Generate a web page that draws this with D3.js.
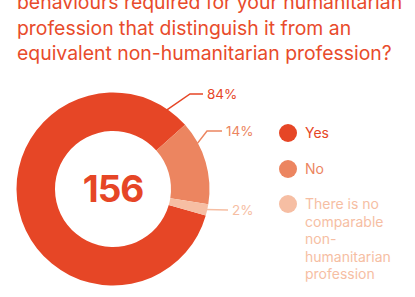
<!DOCTYPE html>
<html>
<head>
<meta charset="utf-8">
<script src="https://cdn.jsdelivr.net/npm/d3@7"></script>
<style>
  body { margin: 0; background: #fff; }
  text { font-family: Inter, "Noto Sans", sans-serif; }
</style>
</head>
<body>
<div id="chart"></div>
<script>
// data
var titleLines = [
  "behaviours required for your humanitarian",
  "profession that distinguish it from an",
  "equivalent non-humanitarian profession?"
];
var categories = ["Yes", "No", "There is no comparable non-humanitarian profession"];
var legendLines = [["Yes"], ["No"], ["There is no", "comparable", "non-", "humanitarian", "profession"]];
var counts = [131, 22, 3];
var pctLabels = ["84%", "14%", "2%"];
var total = "156";
var colors = ["#e64626", "#ec8560", "#f6bea3"];

var svgWidth = 415;
var svgHeight = 297;

var svg = d3.select("#chart")
  .append("svg")
  .attr("width", svgWidth)
  .attr("height", svgHeight);

// title (first line is cut at the top, as in the original)
svg.selectAll(".title")
  .data(titleLines)
  .enter()
  .append("text")
  .attr("class", "title")
  .attr("x", 17)
  .attr("y", (d, i) => 9 + i * 25.5)
  .attr("fill", "#e84b2b")
  .attr("font-size", "19.4px")
  .text(d => d);

// donut
var cx = 113, cy = 189, outerR = 96.5, innerR = 58;
var start = 106 * Math.PI / 180;

var pie = d3.pie()
  .sort(null)
  .startAngle(start)
  .endAngle(start + 2 * Math.PI);

var arc = d3.arc()
  .innerRadius(innerR)
  .outerRadius(outerR);

var chartGroup = svg.append("g")
  .attr("transform", `translate(${cx}, ${cy})`);

var arcs = pie(counts);

chartGroup.selectAll("path")
  .data(arcs)
  .enter()
  .append("path")
  .attr("d", arc)
  .attr("fill", (d, i) => colors[i]);

chartGroup.append("text")
  .attr("text-anchor", "middle")
  .attr("y", 13)
  .attr("fill", "#e64626")
  .attr("font-size", "37px")
  .attr("font-weight", "700")
  .attr("letter-spacing", "-1px")
  .text(total);

// leader lines: angle on ring, elbow point, end of horizontal
var leaders = [
  { a: 34, elbow: [77, -95], end: [90, -95] },
  { a: 62, elbow: [94, -58], end: [109, -58] },
  { a: 102.5, elbow: [95, 21], end: [115, 21] }
];

leaders.forEach(function(l, i) {
  var ang = l.a * Math.PI / 180;
  var p0 = [Math.sin(ang) * (outerR - 2), -Math.cos(ang) * (outerR - 2)];
  var pts = i === 2 ? [p0, l.end] : [p0, l.elbow, l.end];
  chartGroup.append("path")
    .attr("d", d3.line()(pts))
    .attr("fill", "none")
    .attr("stroke", colors[i])
    .attr("stroke-width", 1.5);
  chartGroup.append("text")
    .attr("x", l.end[0] + 4)
    .attr("y", l.end[1] + 5)
    .attr("fill", colors[i])
    .attr("font-size", "13.5px")
    .text(pctLabels[i]);
});

// legend
var legendY = [133, 169, 204];
var legend = svg.selectAll(".legend")
  .data(categories)
  .enter()
  .append("g")
  .attr("class", "legend")
  .attr("transform", (d, i) => `translate(288, ${legendY[i]})`);

legend.append("circle")
  .attr("r", 9)
  .attr("fill", (d, i) => colors[i]);

legend.each(function(d, i) {
  d3.select(this).selectAll("text")
    .data(legendLines[i])
    .enter()
    .append("text")
    .attr("x", 17)
    .attr("y", (t, j) => 5 + j * 17.6)
    .attr("fill", colors[i])
    .attr("font-size", "14px")
    .text(t => t);
});
</script>
</body>
</html>
